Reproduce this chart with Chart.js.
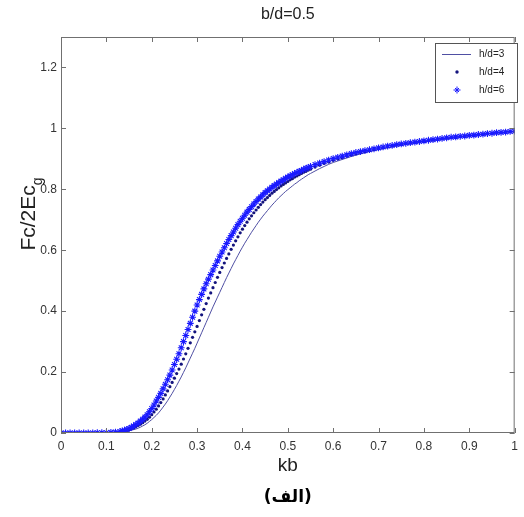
<!DOCTYPE html>
<html>
<head>
<meta charset="utf-8">
<script src="https://cdn.jsdelivr.net/npm/chart.js@4.4.0/dist/chart.umd.min.js"></script>
<style>
  body { margin: 0; background: #fff; }
  canvas { display: block; }
</style>
</head>
<body>
<canvas id="MyChart" width="524" height="517"></canvas>
<script>
// kb values (x), finer where the curves rise
var kb = [0.00,0.01,0.02,0.03,0.04,0.05,0.06,0.07,0.08,0.09,0.10,0.11,0.12,
    0.130,0.135,0.140,0.145,0.150,0.155,0.160,0.165,0.170,0.175,
    0.180,0.185,0.190,0.195,0.200,0.205,0.210,0.215,0.220,0.225,
    0.230,0.235,0.240,0.245,0.250,0.255,0.260,0.265,0.270,0.275,
    0.280,0.285,0.290,0.295,0.300,0.305,0.310,0.315,0.320,0.325,
    0.330,0.335,0.340,0.345,0.350,0.355,0.360,0.365,0.370,0.375,
    0.380,0.385,0.390,0.395,0.400,0.405,0.410,0.415,0.420,0.425,
    0.430,0.435,0.440,0.445,0.450,0.455,0.460,0.465,0.470,0.475,
    0.480,0.485,0.490,0.495,0.500,0.505,0.510,0.515,0.520,0.525,
    0.530,0.535,0.540,0.545,0.550,
    0.56,0.57,0.58,0.59,0.60,0.61,0.62,0.63,0.64,0.65,
    0.66,0.67,0.68,0.69,0.70,0.71,0.72,0.73,0.74,0.75,
    0.76,0.77,0.78,0.79,0.80,0.81,0.82,0.83,0.84,0.85,
    0.86,0.87,0.88,0.89,0.90,0.91,0.92,0.93,0.94,0.95,
    0.96,0.97,0.98,0.99,1.00];

// h/d=3 (solid line)
var hd3 = [0,0,0,0,0,0,0,0,0,0,0,0.001,0.001,
    0.002,0.003,0.004,0.005,0.007,0.009,0.011,0.013,0.016,0.019,
    0.023,0.027,0.032,0.038,0.044,0.051,0.058,0.066,0.075,0.085,
    0.095,0.106,0.118,0.130,0.143,0.156,0.170,0.184,0.199,0.214,
    0.230,0.246,0.262,0.278,0.295,0.312,0.329,0.346,0.363,0.380,
    0.397,0.414,0.430,0.446,0.462,0.478,0.494,0.510,0.525,0.540,
    0.555,0.569,0.583,0.597,0.610,0.623,0.635,0.647,0.659,0.670,
    0.681,0.692,0.702,0.712,0.721,0.730,0.739,0.748,0.756,0.764,
    0.772,0.779,0.786,0.793,0.799,0.805,0.811,0.817,0.822,0.828,
    0.833,0.838,0.843,0.848,0.852,
    0.86,0.868,0.875,0.882,0.888,0.893,0.898,0.903,0.908,0.912,
    0.916,0.92,0.924,0.927,0.93,0.933,0.936,0.939,0.942,0.945,
    0.947,0.95,0.952,0.954,0.956,0.958,0.96,0.962,0.964,0.966,
    0.968,0.97,0.972,0.974,0.975,0.977,0.978,0.98,0.981,0.983,
    0.984,0.985,0.987,0.988,0.989];

// h/d=4 (dots)
var hd4 = [0,0,0,0,0,0,0,0,0,0.001,0.001,0.001,0.002,
    0.004,0.005,0.007,0.009,0.011,0.014,0.017,0.021,0.025,0.029,
    0.034,0.039,0.045,0.052,0.060,0.069,0.078,0.089,0.100,0.112,
    0.125,0.138,0.152,0.166,0.180,0.195,0.210,0.226,0.243,0.260,
    0.278,0.296,0.314,0.332,0.350,0.369,0.388,0.406,0.425,0.443,
    0.460,0.477,0.494,0.511,0.527,0.543,0.558,0.573,0.588,0.603,
    0.617,0.631,0.644,0.657,0.669,0.681,0.692,0.703,0.713,0.723,
    0.732,0.741,0.750,0.758,0.766,0.773,0.780,0.787,0.793,0.799,
    0.805,0.811,0.816,0.821,0.826,0.831,0.835,0.840,0.844,0.848,
    0.852,0.856,0.859,0.863,0.866,
    0.873,0.879,0.885,0.89,0.895,0.9,0.904,0.909,0.913,0.917,
    0.921,0.924,0.927,0.931,0.934,0.937,0.94,0.943,0.946,0.948,
    0.95,0.952,0.954,0.956,0.958,0.96,0.962,0.964,0.966,0.968,
    0.97,0.972,0.973,0.975,0.976,0.978,0.979,0.981,0.982,0.984,
    0.985,0.986,0.988,0.989,0.99];

// h/d=6 (stars)
var hd6 = [0,0,0,0,0,0,0,0,0.001,0.001,0.001,0.002,0.003,
    0.005,0.007,0.009,0.012,0.015,0.019,0.023,0.028,0.033,0.039,
    0.045,0.052,0.060,0.070,0.080,0.092,0.105,0.117,0.130,0.145,
    0.160,0.175,0.190,0.207,0.225,0.242,0.260,0.280,0.300,0.320,
    0.340,0.360,0.380,0.400,0.420,0.438,0.455,0.473,0.490,0.505,
    0.520,0.535,0.550,0.565,0.580,0.594,0.608,0.622,0.635,0.648,
    0.660,0.672,0.684,0.695,0.705,0.715,0.725,0.734,0.743,0.752,
    0.760,0.768,0.775,0.782,0.789,0.795,0.801,0.807,0.812,0.817,
    0.822,0.827,0.831,0.836,0.840,0.844,0.848,0.852,0.855,0.859,
    0.862,0.866,0.869,0.872,0.875,
    0.881,0.886,0.891,0.896,0.901,0.905,0.909,0.913,0.917,0.921,
    0.924,0.927,0.93,0.933,0.936,0.939,0.942,0.944,0.947,0.949,
    0.951,0.953,0.955,0.957,0.959,0.961,0.963,0.965,0.967,0.969,
    0.971,0.972,0.974,0.975,0.977,0.978,0.98,0.981,0.983,0.984,
    0.986,0.987,0.988,0.99,0.991];

var seriesNames = ["h/d=3", "h/d=4", "h/d=6"];
var xTicks = [0,0.1,0.2,0.3,0.4,0.5,0.6,0.7,0.8,0.9,1];
var yTicks = [0,0.2,0.4,0.6,0.8,1,1.2];

var lineColor = "#4f4fa3";
var dotColor = "#14147e";
var starColor = "#1a1aff";
var boxColor = "#707070";
var textColor = "#333";
var fontFam = "'Liberation Sans', Arial, sans-serif";

function toPoints(ys) {
    let pts = [];
    let i = 0;
    while (i < kb.length) {
        pts.push({ x: kb[i], y: ys[i] });
        i++;
    }
    return pts;
}

const decoPlugin = {
    id: "deco",
    afterDatasetsDraw(chart) {
        const c = chart.ctx;
        const a = chart.chartArea;
        const sx = chart.scales.x;
        const sy = chart.scales.y;
        c.save();
        // box
        c.strokeStyle = boxColor;
        c.lineWidth = 1;
        c.strokeRect(a.left + 0.5, a.top + 0.5, a.right - a.left - 1, a.bottom - a.top - 1);
        // inward ticks
        c.beginPath();
        xTicks.forEach((v) => {
            let px = Math.round(sx.getPixelForValue(v)) + 0.5;
            c.moveTo(px, a.bottom); c.lineTo(px, a.bottom - 5);
            c.moveTo(px, a.top); c.lineTo(px, a.top + 5);
        });
        yTicks.forEach((v) => {
            let py = Math.round(sy.getPixelForValue(v)) + 0.5;
            c.moveTo(a.left, py); c.lineTo(a.left + 5, py);
            c.moveTo(a.right, py); c.lineTo(a.right - 5, py);
        });
        c.stroke();

        // legend
        let lx = 435, ly = 43, lw = 82, lh = 59;
        c.fillStyle = "#fff";
        c.fillRect(lx, ly, lw, lh);
        c.strokeStyle = "#555";
        c.strokeRect(lx + 0.5, ly + 0.5, lw, lh);
        c.font = "10px " + fontFam;
        c.textBaseline = "middle";
        c.textAlign = "left";
        let rows = [54, 72, 90];
        c.strokeStyle = lineColor;
        c.beginPath();
        c.moveTo(442, rows[0] + 0.5); c.lineTo(471, rows[0] + 0.5);
        c.stroke();
        c.fillStyle = dotColor;
        c.beginPath();
        c.arc(457, rows[1], 1.7, 0, Math.PI * 2);
        c.fill();
        c.strokeStyle = starColor;
        c.beginPath();
        c.moveTo(453.5, rows[2]); c.lineTo(460.5, rows[2]);
        c.moveTo(457, rows[2] - 3.5); c.lineTo(457, rows[2] + 3.5);
        c.moveTo(455, rows[2] - 2); c.lineTo(459, rows[2] + 2);
        c.moveTo(459, rows[2] - 2); c.lineTo(455, rows[2] + 2);
        c.stroke();
        c.fillStyle = "#222";
        seriesNames.forEach((n, i) => {
            c.fillText(n, 479, rows[i]);
        });

        // title
        c.fillStyle = "#222";
        c.textAlign = "center";
        c.font = "16px " + fontFam;
        c.fillText("b/d=0.5", (a.left + a.right) / 2, 15);

        // x label
        c.font = "19px " + fontFam;
        c.fillText("kb", (a.left + a.right) / 2, 466);

        // y label with subscript g
        c.save();
        c.translate(29, 214);
        c.rotate(-Math.PI / 2);
        c.font = "21px " + fontFam;
        let main = "Fc/2Ec";
        let w1 = c.measureText(main).width;
        c.font = "14px " + fontFam;
        let w2 = c.measureText("g").width;
        let start = -(w1 + w2) / 2;
        c.textAlign = "left";
        c.font = "21px " + fontFam;
        c.fillText(main, start, 0);
        c.font = "14px " + fontFam;
        c.fillText("g", start + w1, 9);
        c.restore();

        // caption
        c.font = "bold 17px 'DejaVu Sans', sans-serif";
        c.textAlign = "center";
        c.fillStyle = "#000";
        c.fillText("(الف)", (a.left + a.right) / 2, 498);
        c.restore();
    }
};

const ctx = document.getElementById("MyChart");

var ChartView = new Chart(ctx, {
    type: "scatter",
    data: {
        datasets: [
            {
                label: seriesNames[2],
                data: toPoints(hd6),
                showLine: false,
                pointStyle: "star",
                pointRadius: 3.4,
                pointBorderWidth: 1.1,
                pointBorderColor: starColor,
                pointBackgroundColor: starColor,
                order: 0
            },
            {
                label: seriesNames[1],
                data: toPoints(hd4),
                showLine: false,
                pointStyle: "circle",
                pointRadius: 1.6,
                pointBorderWidth: 0,
                pointBackgroundColor: dotColor,
                order: 1
            },
            {
                label: seriesNames[0],
                data: toPoints(hd3),
                showLine: true,
                borderColor: lineColor,
                borderWidth: 1,
                pointRadius: 0,
                tension: 0,
                order: 2
            }
        ]
    },
    options: {
        responsive: false,
        animation: false,
        events: [],
        layout: { padding: { top: 37, right: 5, left: 0, bottom: 0 } },
        plugins: {
            legend: { display: false },
            tooltip: { enabled: false },
            title: { display: false }
        },
        scales: {
            x: {
                type: "linear",
                min: 0,
                max: 1,
                afterFit: (scale) => { scale.height = 84; },
                afterBuildTicks: (scale) => { scale.ticks = xTicks.map((v) => ({ value: v })); },
                grid: { display: false, drawTicks: false },
                border: { display: false },
                ticks: {
                    padding: 6,
                    color: textColor,
                    font: { family: fontFam, size: 12 },
                    maxRotation: 0,
                    callback: (v) => String(Math.round(v * 10) / 10)
                }
            },
            y: {
                type: "linear",
                min: 0,
                max: 1.3,
                afterFit: (scale) => { scale.width = 61; },
                afterBuildTicks: (scale) => { scale.ticks = yTicks.map((v) => ({ value: v })); },
                grid: { display: false, drawTicks: false },
                border: { display: false },
                ticks: {
                    padding: 4,
                    color: textColor,
                    font: { family: fontFam, size: 12 },
                    callback: (v) => String(Math.round(v * 10) / 10)
                }
            }
        }
    },
    plugins: [decoPlugin]
});
</script>
</body>
</html>
